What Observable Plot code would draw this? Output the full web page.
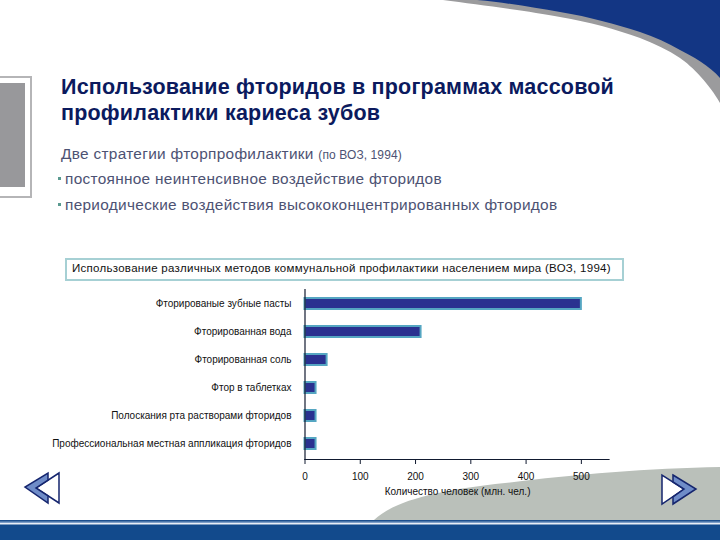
<!DOCTYPE html>
<html lang="ru">
<head>
<meta charset="utf-8">
<script src="https://cdn.jsdelivr.net/npm/d3@7"></script>
<script src="https://cdn.jsdelivr.net/npm/@observablehq/plot@0.6"></script>
<style>
html,body{margin:0;padding:0;background:#fff;width:720px;height:540px;overflow:hidden}
body{position:relative;font-family:"Liberation Sans",Arial,sans-serif}
.t{position:absolute;white-space:nowrap}
#deco{position:absolute;left:0;top:0}
#chart{position:absolute;left:0;top:0}
#chart svg{background:transparent}
.title{left:61px;color:#0b1a5e;font-weight:bold;font-size:21.5px;line-height:26px;letter-spacing:.2px}
.sub{color:#4d5273;font-size:15.4px;line-height:18px;letter-spacing:.3px}
.dot{position:absolute;width:3px;height:3px;background:#5a9a90;left:58px}
#box{position:absolute;left:65px;top:258px;width:555px;height:19px;border:2px solid #a6d0d4;background:#fff;box-sizing:content-box;
 font-size:11.5px;line-height:17px;color:#111;letter-spacing:.28px;padding:0;text-indent:5px;white-space:nowrap}
</style>
</head>
<body>
<svg id="deco" width="720" height="540" viewBox="0 0 720 540">
  <path d="M443,0 C480,5 530,11 560,17 C590,22 615,29 640,38 C655,44 668,50 680,58 C692,66 710,85 720,103 L720,0 Z" fill="#9b9b9d"/>
  <path d="M477,0 C510,3 535,8 560,12 C590,17 615,24 640,32 C655,37 668,43 680,50 C692,56 710,66 720,78 L720,0 Z" fill="#133684"/>
  <rect x="-2" y="77" width="33" height="120" fill="#fff" stroke="#b5b5b7" stroke-width="2"/>
  <rect x="0" y="83" width="25" height="104" fill="#98989b"/>
  <path d="M374,520 C395,500 440,490 505,483 C570,475 650,468 720,467 L720,520 Z" fill="#bac0ba"/>
  <rect x="0" y="520" width="720" height="20" fill="#124a8c"/>
  <rect x="0" y="520" width="720" height="1.5" fill="#1d4f8e"/>
  <rect x="0" y="521.5" width="720" height="1.5" fill="#7f9fc8"/>
  <rect x="0" y="523" width="720" height="1.5" fill="#e8eef6"/>
  <path d="M59,473 L59,503 L36,488 Z" fill="#fff" stroke="#15256e" stroke-width="1.5"/>
  <path d="M48,473 L48,480 L36,488 L48,496 L48,503 L25,487 Z" fill="#6f8cc8" stroke="#15256e" stroke-width="1.5"/>
  <path d="M662,475 L662,504 L684,489 Z" fill="#fff" stroke="#15256e" stroke-width="1.5"/>
  <path d="M673,475 L696,489 L673,504 L673,497 L684,489 L673,482 Z" fill="#6f8cc8" stroke="#15256e" stroke-width="1.5"/>
</svg>

<div class="t title" style="top:74px">Использование фторидов в программах массовой<br>профилактики кариеса зубов</div>
<div class="t sub" style="left:61px;top:145px">Две стратегии фторпрофилактики <span style="font-size:12px;letter-spacing:.1px">(по ВОЗ, 1994)</span></div>
<div class="dot" style="top:177px"></div>
<div class="t sub" style="left:65px;top:170px">постоянное неинтенсивное воздействие фторидов</div>
<div class="dot" style="top:203px"></div>
<div class="t sub" style="left:65px;top:196px">периодические воздействия высококонцентрированных фторидов</div>
<div id="box">Использование различных методов коммунальной профилактики населением мира (ВОЗ, 1994)</div>
<div id="chart"></div>

<script>
const categories = [
  "Фторированые зубные пасты",
  "Фторированная вода",
  "Фторированная соль",
  "Фтор в таблетках",
  "Полоскания рта растворами фторидов",
  "Профессиональная местная аппликация фторидов"
];
const values = [500, 210, 40, 20, 20, 20];
const xTicks = [0, 100, 200, 300, 400, 500];
const xLabel = "Количество человек (млн. чел.)";
const rows = categories.map((name, i) => ({name, value: values[i]}));

const chart = Plot.plot({
  width: 720,
  height: 540,
  marginLeft: 304.5,
  marginRight: 111.5,
  marginTop: 289,
  marginBottom: 81,
  style: {background: "transparent", fontFamily: '"Liberation Sans",Arial,sans-serif', fontSize: "10px", color: "#111"},
  x: {domain: [0, 550]},
  y: {domain: categories, paddingInner: 0.6, paddingOuter: 0.3},
  marks: [
    Plot.barX(rows, {y: "name", x: "value", fill: "#2a3190", stroke: "#55a6c2", strokeWidth: 2}),
    Plot.frame({anchor: "left", stroke: "#111a30", strokeWidth: 1.2}),
    Plot.frame({anchor: "bottom", stroke: "#111a30", strokeWidth: 1.2}),
    Plot.axisY({tickSize: 0, tickPadding: 13.5, label: null, fontSize: 10}),
    Plot.axisX({ticks: xTicks, tickSize: 5, tickPadding: 8, tickFormat: d3.format("d"), stroke: "#111a30", label: null, fontSize: 10}),
    Plot.text([xLabel], {frameAnchor: "bottom", dy: 35, x: 276, fontSize: 10, fill: "#111"})
  ]
});
document.getElementById("chart").appendChild(chart);
</script>
</body>
</html>
